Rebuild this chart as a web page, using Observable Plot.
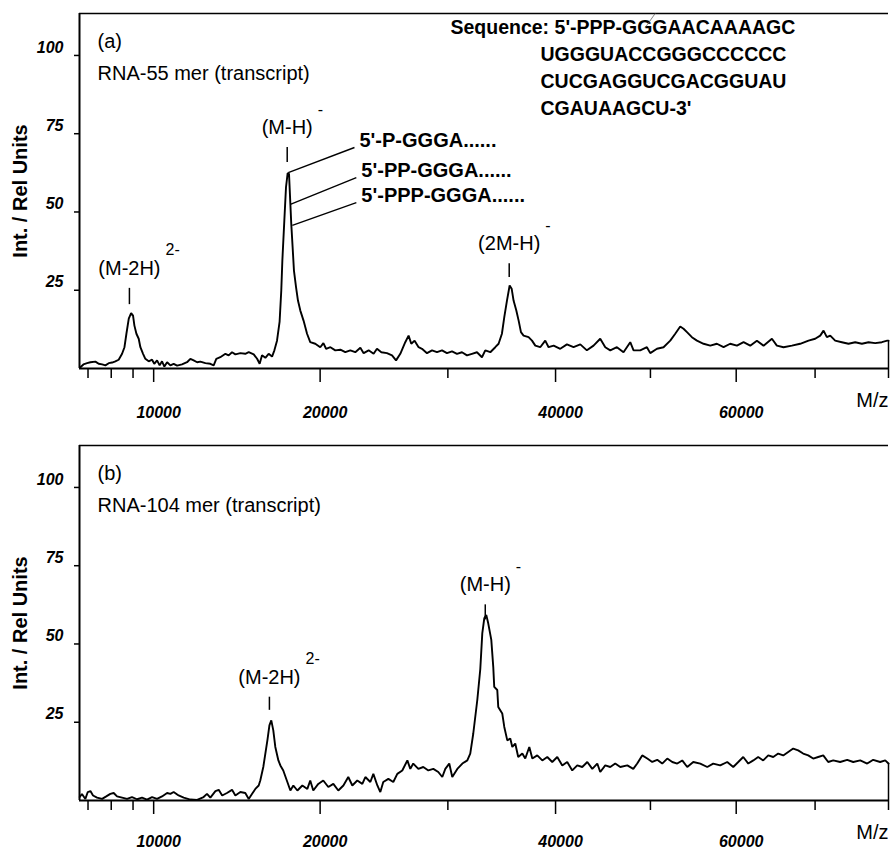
<!DOCTYPE html>
<html>
<head>
<meta charset="utf-8">
<script src="https://cdn.jsdelivr.net/npm/d3@7"></script>
<script src="https://cdn.jsdelivr.net/npm/@observablehq/plot@0.6"></script>
<style>
  html, body { margin: 0; padding: 0; background: #fff; }
  #chart { width: 891px; height: 851px; overflow: hidden; }
  #chart svg { display: block; }
</style>
</head>
<body>
<div id="chart"></div>
<script>
// MALDI spectra of two RNA transcripts: [m/z, relative intensity]
const traceA = [
  [6686,0.4],[6810,1.3],[6960,1.7],[7100,2.0],[7311,2.2],[7450,1.5],[7600,1.3],[7742,1.0],[7890,1.7],[8040,1.9],
  [8185,2.3],[8335,2.8],[8490,4.7],[8600,6.8],[8690,11.1],[8800,15.9],[8910,17.7],[9000,16.9],[9065,13.7],[9160,11.1],
  [9270,9.5],[9350,6.8],[9480,4.7],[9590,3.1],[9755,2.3],[9920,2.8],[10030,1.5],[10170,2.6],[10300,1.0],[10420,2.3],
  [10540,0.6],[10680,2.0],[10850,1.0],[11020,1.5],[11200,0.9],[11460,1.3],[11730,2.0],[11910,3.1],[12090,2.6],[12280,2.0],
  [12460,2.2],[12740,1.7],[13020,1.5],[13210,1.0],[13360,3.1],[13590,3.6],[13890,4.7],[14080,4.2],[14280,5.2],[14480,4.5],
  [14780,4.9],[15080,4.7],[15290,5.2],[15600,4.5],[15810,3.1],[15970,1.5],[16120,4.2],[16330,3.4],[16540,4.7],[16760,3.8],
  [16910,5.8],[17080,8.9],[17250,15.0],[17360,25.0],[17430,34.5],[17560,47.3],[17670,57.9],[17780,62.4],[17870,62.2],[17960,52.6],
  [18020,46.2],[18110,38.8],[18200,31.3],[18340,26.0],[18470,21.7],[18630,18.5],[18850,15.3],[19090,11.1],[19310,8.4],[19660,7.9],
  [20010,6.8],[20230,8.1],[20420,6.3],[20730,6.8],[21080,5.8],[21450,6.0],[21810,5.2],[22180,5.8],[22550,5.2],[22930,6.6],
  [23180,4.9],[23560,5.8],[23940,4.7],[24200,6.3],[24540,5.2],[24980,4.9],[25380,4.2],[25700,2.6],[26040,4.7],[26440,8.4],
  [26710,10.5],[26930,7.9],[27200,8.9],[27530,6.8],[27810,6.3],[28230,4.9],[28650,5.8],[29070,5.2],[29500,5.8],[29920,4.9],
  [30360,5.5],[30790,4.7],[31230,5.2],[31670,4.2],[32110,4.7],[32560,5.2],[33010,3.6],[33310,5.8],[33770,5.2],[34225,6.8],
  [34530,7.9],[34840,11.1],[35060,16.4],[35310,21.7],[35560,26.5],[35750,25.5],[35930,21.7],[36190,18.5],[36410,15.3],[36630,11.6],
  [36880,10.5],[37360,10.0],[37690,8.9],[38010,7.3],[38490,6.8],[38980,8.9],[39310,6.8],[39810,7.3],[40470,6.3],[41140,7.7],
  [41810,6.8],[42500,7.7],[43180,5.8],[43870,7.3],[44570,9.5],[45100,6.8],[45630,5.8],[46340,6.8],[47050,5.2],[47780,8.4],
  [48140,5.8],[48870,5.8],[49610,6.8],[49980,4.9],[50730,6.3],[51470,6.8],[52230,8.9],[52800,11.1],[53370,13.4],[53750,12.7],
  [54150,11.6],[54720,10.0],[55310,8.9],[56090,7.9],[56880,7.3],[57670,7.9],[58470,6.8],[59270,7.9],[60090,7.3],[60900,8.4],
  [61720,7.3],[62550,8.9],[63380,7.3],[64430,9.5],[65060,7.3],[65910,6.8],[66980,7.3],[68050,7.9],[69140,8.9],[70010,9.5],
  [70680,10.5],[71120,12.1],[71560,10.0],[72010,10.5],[72670,8.9],[73570,8.4],[74470,7.9],[75380,8.4],[76300,7.9],[77210,8.4],
  [78140,8.1],[79070,8.4],[79820,8.9],[80000,8.9]
];

const traceB = [
  [6660,1.1],[6750,2.1],[6890,0.5],[6990,2.7],[7100,3.0],[7210,1.6],[7380,0.9],[7600,0.5],[7780,1.3],[7960,2.1],
  [8110,2.4],[8260,1.3],[8490,0.9],[8720,0.5],[8950,1.1],[9190,0.4],[9430,0.9],[9670,0.3],[9920,1.1],[10170,0.5],
  [10420,1.3],[10680,2.4],[10850,2.1],[11020,2.7],[11280,1.6],[11550,0.9],[11910,0.3],[12280,0.2],[12640,1.1],[12830,2.1],
  [13020,0.9],[13310,3.0],[13500,3.4],[13700,1.6],[13980,2.4],[14280,3.4],[14480,1.6],[14780,2.7],[15080,2.4],[15290,0.5],
  [15490,2.1],[15700,3.7],[15910,4.8],[16010,6.4],[16200,10.7],[16460,19.2],[16590,24.0],[16710,25.6],[16840,22.4],[16970,17.1],
  [17170,12.8],[17300,11.2],[17490,9.6],[17760,5.9],[17960,3.2],[18160,4.8],[18430,3.2],[18770,4.8],[19110,3.7],[19310,6.4],
  [19520,3.2],[19870,5.3],[20220,6.4],[20580,4.3],[20940,5.3],[21300,3.2],[21670,4.8],[22030,7.5],[22330,4.8],[22700,6.4],
  [23080,5.3],[23310,7.5],[23690,5.9],[23920,8.5],[24230,4.8],[24460,2.7],[24690,5.9],[25090,6.9],[25480,5.9],[25800,8.5],
  [26200,9.6],[26610,12.8],[26850,10.1],[27090,11.8],[27510,10.1],[27920,10.7],[28340,9.6],[28760,10.1],[29180,9.1],[29520,7.5],
  [29780,10.1],[30120,11.8],[30380,7.5],[30820,10.1],[31260,11.8],[31700,12.8],[31960,15.0],[32230,21.4],[32590,32.1],[32860,42.0],
  [33040,53.4],[33220,58.2],[33400,59.3],[33580,56.6],[33860,51.3],[34040,42.7],[34130,36.3],[34410,35.3],[34500,29.9],[34870,27.8],
  [35060,23.5],[35340,19.2],[35620,19.8],[35810,17.1],[36090,18.2],[36370,13.9],[36760,15.0],[37040,13.4],[37430,17.1],[37720,13.4],
  [38200,14.4],[38690,12.8],[39180,13.9],[39670,12.3],[40170,13.9],[40670,11.2],[41170,12.3],[41680,9.6],[42190,11.2],[42700,10.7],
  [43220,12.3],[43740,10.1],[44260,11.8],[44570,9.1],[45100,11.2],[45630,10.7],[46160,11.8],[46700,10.7],[47460,11.2],[48110,10.1],
  [48540,11.8],[49090,14.4],[49650,13.4],[50200,12.3],[50760,13.0],[51320,11.8],[51890,13.4],[52460,12.3],[53030,11.8],[53600,12.8],
  [54180,10.7],[54880,12.3],[55700,11.8],[56520,10.7],[57230,11.8],[58070,11.2],[58910,12.3],[59640,10.7],[60250,12.3],[60860,13.9],
  [61480,11.8],[62100,12.8],[62710,13.9],[63340,12.8],[63970,14.4],[64600,13.9],[65230,15.0],[65870,14.4],[66510,15.5],[67150,16.6],
  [67790,16.0],[68440,15.0],[69100,14.4],[69750,13.4],[70410,13.9],[71080,14.4],[71740,12.3],[72410,12.8],[73340,12.3],[74290,13.0],
  [75110,12.3],[76070,12.8],[77030,11.8],[77860,13.0],[78830,12.3],[79540,12.8],[80000,11.8]
];

const xTicksMajor = [10000, 20000, 40000, 60000];
const xTicksMinor = [7000, 8000, 9000, 30000, 50000, 70000, 80000];
const yTicks = [25, 50, 75, 100];
const mzRange = [6650, 80000];
const intRange = [0, 113.4];

// Ion assignments: peak position and the extent of the marker above it
const peaksA = [
  {mz: 8830, low: 20.4, high: 25.6, ion: "(M-2H)", charge: "2-"},
  {mz: 17750, low: 65.8, high: 70.6, ion: "(M-H)", charge: "-"},
  {mz: 35520, low: 29.1, high: 33.5, ion: "(2M-H)", charge: "-"}
];
const peaksB = [
  {mz: 16590, low: 28.8, high: 33.0, ion: "(M-2H)", charge: "2-"},
  {mz: 33310, low: 57.7, high: 62.5, ion: "(M-H)", charge: "-"}
];

// 5'-phosphorylation variants resolved on the (M-H)- peak of the 55-mer
const phosphoForms = [
  {form: "5'-P-GGGA......", mzPeak: 17820, intPeak: 62.6, mzText: 22490, intText: 70.6},
  {form: "5'-PP-GGGA......", mzPeak: 17960, intPeak: 52.4, mzText: 22630, intText: 61.0},
  {form: "5'-PPP-GGGA......", mzPeak: 18090, intPeak: 45.7, mzText: 22630, intText: 53.0}
];

const sequenceLines = [
  "Sequence: 5'-PPP-GGGAACAAAAGC",
  "UGGGUACCGGGCCCCCC",
  "CUCGAGGUCGACGGUAU",
  "CGAUAAGCU-3'"
];
// thin stroke marking the GGG|A junction in the sequence
const junctionMark = [{mz1: 49420, int1: 108.9, mz2: 50530, int2: 113.4}];

const FONT = "'Liberation Sans', Arial, Helvetica, sans-serif";
const measure = document.createElement("canvas").getContext("2d");
function halfWidth(str, size) {
  measure.font = `${size}px ${FONT}`;
  return measure.measureText(str).width / 2;
}

function panel({trace, peaks, tag, title, height, marginTop, marginBottom, labelDy, extra = []}) {
  const last = trace[trace.length - 1][1];
  return Plot.plot({
    width: 891,
    height,
    marginTop,
    marginBottom,
    marginLeft: 79,
    marginRight: 3,
    style: {fontFamily: FONT, background: "#fff", color: "#000", overflow: "visible"},
    x: {type: "sqrt", domain: mzRange, label: null},
    y: {domain: intRange, label: null},
    marks: [
      // frame
      Plot.ruleY([intRange[0]], {stroke: "#000", strokeWidth: 2}),
      Plot.ruleX([mzRange[0]], {stroke: "#000", strokeWidth: 2}),
      Plot.ruleY([intRange[1]], {stroke: "#000", strokeWidth: 1.6}),
      Plot.ruleX([mzRange[1]], {y1: 0, y2: last, stroke: "#000", strokeWidth: 1.5}),
      // ticks
      Plot.axisX(xTicksMinor, {tickSize: 10, tickFormat: () => "", label: null, strokeWidth: 1.5}),
      Plot.axisX(xTicksMajor, {tickSize: 14, tickFormat: () => "", label: null, strokeWidth: 1.5}),
      Plot.axisY(yTicks, {tickSize: 5, tickFormat: () => "", label: null, strokeWidth: 1.5}),
      Plot.text(xTicksMajor, {x: d => d, frameAnchor: "bottom", dy: labelDy, dx: 5, text: d => String(d),
        fontSize: 16, fontWeight: "bold", fontStyle: "italic", textAnchor: "middle", lineAnchor: "middle"}),
      Plot.text(yTicks, {y: d => d, frameAnchor: "left", dx: -16, dy: -8, text: d => String(d),
        fontSize: 16, fontWeight: "bold", fontStyle: "italic", textAnchor: "end", lineAnchor: "middle"}),
      Plot.text(["M/z"], {frameAnchor: "bottom-right", dy: 32, fontSize: 20, textAnchor: "end", lineAnchor: "middle"}),
      Plot.text(["Int. / Rel Units"], {frameAnchor: "left", dx: -59, rotate: -90, fontSize: 20, fontWeight: "bold",
        textAnchor: "middle", lineAnchor: "middle"}),
      // panel tags
      Plot.text([tag], {frameAnchor: "top-left", dx: 18, dy: 28, fontSize: 20, textAnchor: "start", lineAnchor: "middle"}),
      Plot.text([title], {frameAnchor: "top-left", dx: 18, dy: 60, fontSize: 20, textAnchor: "start", lineAnchor: "middle"}),
      // spectrum
      Plot.line(trace, {x: d => d[0], y: d => d[1], stroke: "#000", strokeWidth: 1.9, strokeLinejoin: "miter"}),
      // ion labels
      Plot.ruleX(peaks, {x: "mz", y1: "low", y2: "high", stroke: "#000", strokeWidth: 1.5}),
      Plot.text(peaks, {x: "mz", y: "high", text: "ion", dy: -20, fontSize: 20, textAnchor: "middle", lineAnchor: "middle"}),
      ...peaks.map(p => Plot.text([p], {x: "mz", y: "high", text: "charge", dx: halfWidth(p.ion, 20) + 5, dy: -38,
        fontSize: 16, textAnchor: "start", lineAnchor: "middle"})),
      ...extra
    ]
  });
}

const extraA = [
  Plot.link(phosphoForms, {x1: "mzPeak", y1: "intPeak", x2: "mzText", y2: "intText", stroke: "#000", strokeWidth: 1.4}),
  Plot.text(phosphoForms, {x: "mzText", y: "intText", text: "form", dx: 5, dy: -7, fontSize: 20, fontWeight: "bold",
    textAnchor: "start", lineAnchor: "middle"}),
  ...sequenceLines.map((line, i) => Plot.text([line], {frameAnchor: "top-left", dx: i ? 461 : 371, dy: 14.5 + 27 * i,
    fontSize: 19.5, fontWeight: "bold", textAnchor: "start", lineAnchor: "middle"})),
  Plot.link(junctionMark, {x1: "mz1", y1: "int1", x2: "mz2", y2: "int2", stroke: "#666", strokeWidth: 0.8})
];

const chart = document.getElementById("chart");
chart.append(panel({
  trace: traceA, peaks: peaksA, tag: "(a)", title: "RNA-55 mer (transcript)",
  height: 430, marginTop: 13, marginBottom: 62, labelDy: 44, extra: extraA
}));
chart.append(panel({
  trace: traceB, peaks: peaksB, tag: "(b)", title: "RNA-104 mer (transcript)",
  height: 421, marginTop: 15, marginBottom: 51, labelDy: 41
}));
</script>
</body>
</html>
